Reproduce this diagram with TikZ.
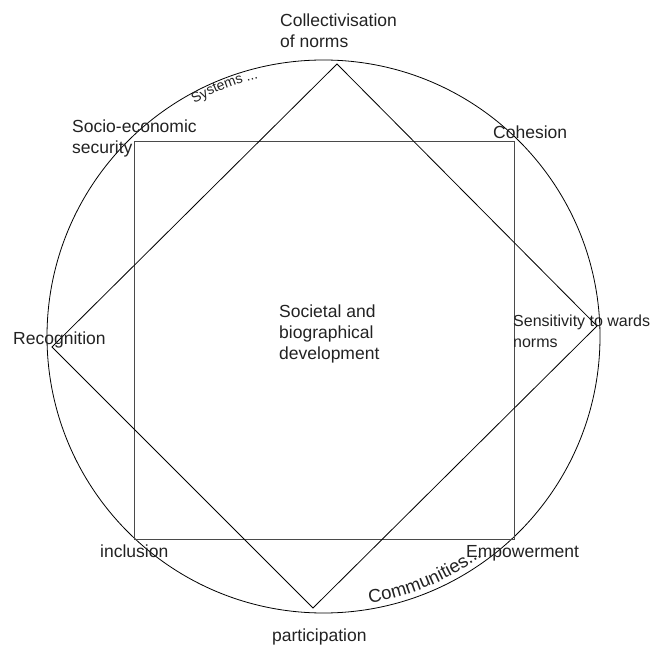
\documentclass[tikz,border=0pt]{standalone}
\usepackage{fontspec}
\setmainfont{Liberation Sans}
\usetikzlibrary{calc,decorations.text}
\definecolor{ink}{HTML}{222222}
\definecolor{boxline}{HTML}{4a4a4a}
\begin{document}
\begin{tikzpicture}[x=1pt,y=1pt,
  lbl/.style={inner sep=0pt, anchor=base west, align=left, text=ink,
    font=\fontsize{17.5}{21}\selectfont},
  thinline/.style={draw=black, line width=0.8pt},
  boxstyle/.style={draw=boxline, line width=1pt}]
\useasboundingbox (0,0) rectangle (650,648);
% centre and outer circle
\coordinate (c) at (323.5,311.5);
\draw[thinline] (c) circle[radius=276.5];
% square
\coordinate (sqa) at (134,506);
\coordinate (sqb) at (514,109);
\draw[boxstyle] (sqa) rectangle (sqb);
% diamond
\coordinate (dt) at (337,584);
\coordinate (dr) at (597,322);
\coordinate (db) at (313,40);
\coordinate (dl) at (52,301);
\draw[thinline] (dt) -- (dr) -- (db) -- (dl) -- cycle;
% labels (anchor = baseline of the last line)
\node[lbl] (collect) at (280,600.3) {Collectivisation\\of norms};
\node[lbl] (socio) at (72,494) {Socio-economic\\security};
\node[lbl] (cohesion) at (493,509) {Cohesion};
\node[lbl] (recog) at (13,303) {Recognition};
\node[lbl] (societal) at (279,288) {Societal and\\biographical\\development};
\node[lbl, font=\fontsize{16}{21}\selectfont] (sensitivity) at (513,300) {Sensitivity to wards\\norms};
\node[lbl] (inclusion) at (100,91) {inclusion};
\node[lbl] (empower) at (466,91) {Empowerment};
\node[lbl] (particip) at (272,7) {participation};
% text along the circle
\path[decorate, decoration={text along path, text align=left,
    text={|\fontsize{14}{14}\selectfont\color{ink}|Systems ...}}]
  ($(c)+(119:266.5)$) arc[start angle=119, end angle=100, radius=266.5];
\path[decorate, decoration={text along path, text align=left,
    text={|\fontsize{18.5}{21}\selectfont\color{ink}|Communities...}}]
  ($(c)+(-80.2:271)$) arc[start angle=-80.2, end angle=-48, radius=271];
\end{tikzpicture}
\end{document}
